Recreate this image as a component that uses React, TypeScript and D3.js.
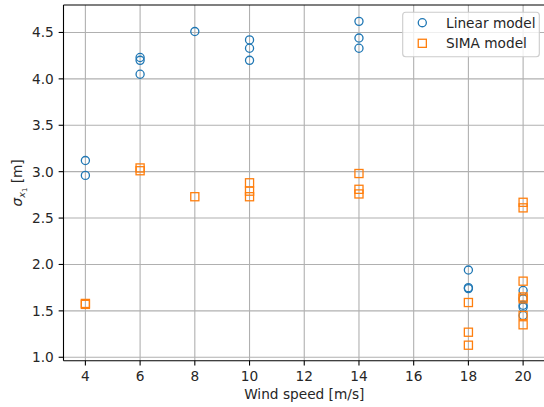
import React from "react";
import * as d3 from "d3";

const linearX = [4, 4, 6, 6, 6, 8, 10, 10, 10, 14, 14, 14, 18, 18, 18, 20, 20, 20, 20, 20];
const linearY = [3.12, 2.96, 4.23, 4.2, 4.05, 4.51, 4.42, 4.33, 4.2, 4.62, 4.44, 4.33, 1.94, 1.75, 1.74, 1.72, 1.63, 1.56, 1.54, 1.45];
const simaX = [4, 4, 6, 6, 8, 10, 10, 10, 14, 14, 14, 18, 18, 18, 20, 20, 20, 20, 20, 20, 20];
const simaY = [1.58, 1.57, 3.04, 3.01, 2.73, 2.88, 2.79, 2.73, 2.98, 2.81, 2.76, 1.59, 1.27, 1.13, 2.67, 2.61, 1.82, 1.65, 1.63, 1.45, 1.35];
const xTicks = [4, 6, 8, 10, 12, 14, 16, 18, 20];
const yTicks = [1.0, 1.5, 2.0, 2.5, 3.0, 3.5, 4.0, 4.5];
const seriesNames = ["Linear model", "SIMA model"];

const W = 544, H = 407;
const L = 63.5, R = 545, T = 5, B = 360.7;
const FONT = "DejaVu Sans, sans-serif";
const FS = 13.7;
const TL = 4.86;

export default function App() {
  const x = d3.scaleLinear().domain([3.2, 20.8]).range([L, R]);
  const y = d3.scaleLinear().domain([0.963, 4.796]).range([B, T]);
  const blue = "#1f77b4", orange = "#ff7f0e";
  const ms = 8.1;
  const mw = 1.3;
  return (
    <div style={{ position: "absolute", left: 0, top: 0 }}>
      <svg width={W} height={H} style={{ display: "block", background: "#fff" }} fontFamily={FONT}>
        <rect x={0} y={0} width={W} height={H} fill="#fff" />
        {xTicks.map((t) => (
          <line key={"gx" + t} x1={x(t)} x2={x(t)} y1={T} y2={B} stroke="#b0b0b0" strokeWidth={1.1} />
        ))}
        {yTicks.map((t) => (
          <line key={"gy" + t} x1={L} x2={R} y1={y(t)} y2={y(t)} stroke="#b0b0b0" strokeWidth={1.1} />
        ))}
        {linearX.map((v, i) => (
          <circle key={"c" + i} cx={x(v)} cy={y(linearY[i])} r={ms / 2} fill="none" stroke={blue} strokeWidth={mw} />
        ))}
        {simaX.map((v, i) => (
          <rect key={"s" + i} x={x(v) - ms / 2} y={y(simaY[i]) - ms / 2} width={ms} height={ms} fill="none" stroke={orange} strokeWidth={mw} />
        ))}
        <line x1={L} x2={L} y1={T} y2={B} stroke="#000" strokeWidth={1.1} />
        <line x1={L} x2={R} y1={B} y2={B} stroke="#000" strokeWidth={1.1} />
        <line x1={L} x2={R} y1={T} y2={T} stroke="#000" strokeWidth={1.1} />
        {xTicks.map((t) => (
          <g key={"tx" + t}>
            <line x1={x(t)} x2={x(t)} y1={B} y2={B + TL} stroke="#000" strokeWidth={1.1} />
            <text x={x(t)} y={B + 2 * TL + 10.2} textAnchor="middle" fontSize={FS} fill="#262626">{t}</text>
          </g>
        ))}
        {yTicks.map((t) => (
          <g key={"ty" + t}>
            <line x1={L - TL} x2={L} y1={y(t)} y2={y(t)} stroke="#000" strokeWidth={1.1} />
            <text x={L - 2 * TL} y={y(t)} dy="0.36em" textAnchor="end" fontSize={FS} fill="#262626">{t.toFixed(1)}</text>
          </g>
        ))}
        <text x={(L + R) / 2} y={398.5} textAnchor="middle" fontSize={FS} fill="#262626">Wind speed [m/s]</text>
        <text transform={`translate(22,${(T + B) / 2}) rotate(-90)`} textAnchor="middle" fontSize={FS} fill="#262626">
          <tspan fontStyle="italic">σ</tspan>
          <tspan fontStyle="italic" fontSize={FS * 0.7} dy={3}>x</tspan>
          <tspan fontSize={FS * 0.5} dy={2}>1</tspan>
          <tspan dy={-5}> [m]</tspan>
        </text>
        <g>
          <rect x={402.7} y={12.3} width={136.6} height={44.4} rx={3} fill="#fff" fillOpacity={0.8} stroke="#cccccc" strokeWidth={1.1} />
          <circle cx={422.3} cy={22.7} r={ms / 2} fill="none" stroke={blue} strokeWidth={mw} />
          <text x={446} y={22.7} dy="0.36em" fontSize={FS} fill="#262626">{seriesNames[0]}</text>
          <rect x={422.3 - ms / 2} y={43.3 - ms / 2} width={ms} height={ms} fill="none" stroke={orange} strokeWidth={mw} />
          <text x={446} y={43.3} dy="0.36em" fontSize={FS} fill="#262626">{seriesNames[1]}</text>
        </g>
      </svg>
    </div>
  );
}
